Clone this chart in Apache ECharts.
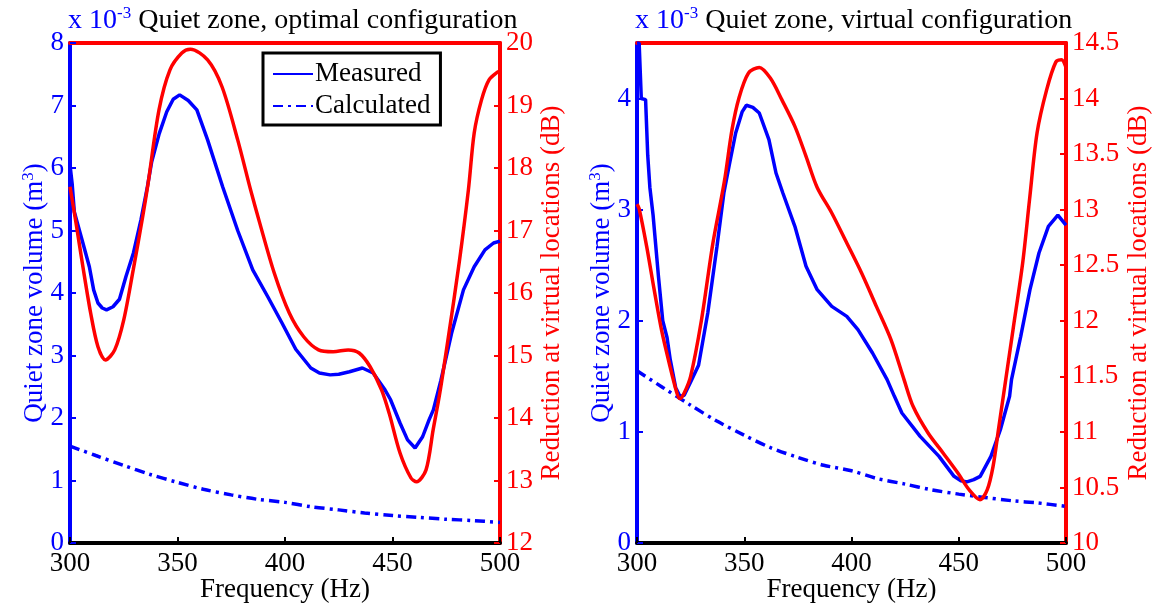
<!DOCTYPE html>
<html><head><meta charset="utf-8">
<script src="https://cdn.jsdelivr.net/npm/echarts@6/dist/echarts.min.js"></script>
<style>html,body{margin:0;padding:0;background:#fff}#c{width:1154px;height:603px}</style>
</head><body><div id="c"></div>
<script>
// ---------- data (volumes in 1e-3 m^3, reductions in dB) ----------
const freqTicks = [300, 350, 400, 450, 500];

// Optimal configuration: measured quiet-zone volume
const optMeasFreq = [300,301,302,304,306,309,311,313,315,317,320,323,326,329.5,333,336,338,341.5,345,348,351,355,359,364,371,378,385,392,398.6,405,412,416,421,425,430,436,441,446.5,449,453.5,457,460.5,464,467,469,472.5,477.5,483,488,493,497,500];
const optMeasVol  = [6.05,5.75,5.3,5.05,4.8,4.42,4.05,3.84,3.76,3.73,3.78,3.9,4.26,4.64,5.17,5.7,6.1,6.55,6.9,7.1,7.17,7.08,6.93,6.45,5.7,5.0,4.37,3.94,3.52,3.1,2.8,2.72,2.69,2.7,2.74,2.8,2.72,2.45,2.3,1.92,1.65,1.52,1.7,1.97,2.13,2.6,3.36,4.05,4.42,4.69,4.8,4.83];

// Optimal configuration: reduction at virtual locations
const optRedFreq = [300,302.8,306,309.6,313,316.5,320.8,325,329.4,333.8,336.3,341.4,346.5,352,356,364,370.7,378,384,388,395,402,408.7,415.6,422.4,429.4,434.5,439.6,444.9,448.5,453.5,458.6,461.2,465.6,468.9,472,475.8,481,485.3,488,491.4,494.9,499,500];
const optRedDb   = [17.7,17.12,16.42,15.68,15.14,14.93,15.09,15.57,16.37,17.22,17.75,18.93,19.57,19.84,19.9,19.73,19.3,18.45,17.65,17.15,16.32,15.68,15.3,15.09,15.06,15.09,15.04,14.82,14.45,14.07,13.44,13.04,12.98,13.17,13.81,14.4,15.25,16.48,17.65,18.56,19.09,19.41,19.54,19.55];

// Calculated quiet-zone volume (same in both panels)
const calcFreq = [300,312,325,337,350,362,375,387,400,412,425,437,450,462,475,487,500];
const calcVol  = [1.55,1.4,1.24,1.1,0.97,0.86,0.77,0.7,0.65,0.58,0.53,0.48,0.44,0.41,0.38,0.36,0.33];

// Virtual configuration: measured quiet-zone volume
const virMeasFreq = [300,301,302,304,305,306,307.5,310,312,314,315.5,318,320,322,325,328.7,333,337.3,340.5,343,346,349,351,354,357,361.5,364.8,368,373.6,378.8,384,390.8,397.8,403,409.8,416.6,420,423.5,432,440.8,447.8,451,453.8,457,460,465,469.4,473.7,474.6,478.9,483.2,487.4,491.8,496.2,500];
const virMeasVol  = [4.5,4.5,4.0,3.99,3.49,3.2,2.95,2.4,2.0,1.85,1.65,1.4,1.32,1.33,1.45,1.6,2.07,2.67,3.15,3.4,3.69,3.88,3.94,3.92,3.87,3.63,3.33,3.15,2.85,2.49,2.28,2.13,2.04,1.92,1.71,1.47,1.32,1.17,0.96,0.78,0.6,0.56,0.55,0.57,0.6,0.78,1.02,1.32,1.47,1.86,2.28,2.61,2.85,2.95,2.86];

// Virtual configuration: reduction at virtual locations
const virRedFreq = [300,301,304.5,308,311.4,315,318.6,320,322,325,330,335.4,340.7,344.3,347.6,352,357,362.3,367.5,373.6,378.8,384,390.8,397.8,404.7,411.6,418.4,424.5,428.7,435.7,442.7,449.6,454.8,459.9,463.3,466,468.5,471,475.3,479.8,483,486.5,491,495.3,497.9,500];
const virRedDb   = [13.05,13.01,12.67,12.28,11.92,11.62,11.35,11.3,11.35,11.5,12.0,12.7,13.25,13.72,14.01,14.23,14.28,14.18,13.99,13.75,13.48,13.2,12.97,12.7,12.43,12.13,11.83,11.47,11.23,10.99,10.81,10.63,10.48,10.39,10.48,10.69,11.02,11.35,11.92,12.52,13.09,13.69,14.08,14.33,14.35,14.28];

// ---------- styles ----------
const FONT = 'Liberation Serif';
const BLUE = '#0000ff', RED = '#ff0000', BLACK = '#000000';
const FS = 27, TFS = 28;
const AXW = 4, LW = 3.5;
const zip = (f, v) => f.map((x, i) => [x, v[i]]);
const dashDot = [10, 5, 3, 5];

function xAxes(grid) {
  return [
    { gridIndex: grid, type: 'value', min: freqTicks[0], max: freqTicks[freqTicks.length-1], interval: 50,
      position: 'bottom',
      axisLine: { show: true, onZero: false, lineStyle: { color: BLACK, width: AXW } },
      axisTick: { show: true, inside: true, length: 6, lineStyle: { color: BLACK, width: 2 } },
      axisLabel: { color: BLACK, fontFamily: FONT, fontSize: FS, margin: 7 },
      splitLine: { show: false },
      name: 'Frequency (Hz)', nameLocation: 'middle', nameGap: 33, nameMoveOverlap: false,
      nameTextStyle: { color: BLACK, fontFamily: FONT, fontSize: FS, fontWeight: 'normal', lineHeight: 27 } },
    { gridIndex: grid, type: 'value', min: 300, max: 500, interval: 50, position: 'top',
      axisLine: { show: true, onZero: false, lineStyle: { color: RED, width: AXW } },
      axisTick: { show: false }, axisLabel: { show: false }, splitLine: { show: false } }
  ];
}
function yAxis(grid, pos, min, max, interval, color, name, gap, showMax) {
  return {
    gridIndex: grid, type: 'value', min, max, interval, position: pos,
    axisLine: { show: true, onZero: false, lineStyle: { color, width: AXW } },
    axisTick: { show: true, inside: true, length: 6, lineStyle: { color, width: 2 } },
    axisLabel: { color, fontFamily: FONT, fontSize: FS, margin: 6, showMaxLabel: showMax },
    splitLine: { show: false },
    name, nameLocation: 'middle', nameGap: gap, nameRotate: 90, nameMoveOverlap: false,
    nameTextStyle: { color, fontFamily: FONT, fontSize: FS, fontWeight: 'normal', lineHeight: 30,
      rich: { s: { color, fontFamily: FONT, fontSize: 17, lineHeight: 18, verticalAlign: 'top' } } }
  };
}
function titleRich() {
  return {
    b: { color: BLUE, fontFamily: FONT, fontSize: TFS, fontWeight: 'normal', lineHeight: 32 },
    bs: { color: BLUE, fontFamily: FONT, fontSize: 17, fontWeight: 'normal', lineHeight: 18, verticalAlign: 'top' },
    k: { color: BLACK, fontFamily: FONT, fontSize: TFS, fontWeight: 'normal', lineHeight: 32 }
  };
}

const option = {
  animation: false,
  backgroundColor: '#fff',
  title: [
    { left: 68, top: 5, padding: 0, text: '{b|x 10}{bs|-3}{k| Quiet zone, optimal configuration}',
      textStyle: { fontWeight: 'normal', rich: titleRich() } },
    { left: 635, top: 5, padding: 0, text: '{b|x 10}{bs|-3}{k| Quiet zone, virtual configuration}',
      textStyle: { fontWeight: 'normal', rich: titleRich() } }
  ],
  legend: {
    left: 263, top: 53, orient: 'vertical', data: ['Measured', 'Calculated'],
    backgroundColor: '#fff', borderColor: BLACK, borderWidth: 3, borderRadius: 0,
    padding: [7, 10, 5, 9], itemGap: 4, itemWidth: 40, itemHeight: 14,
    itemStyle: { opacity: 0 },
    textStyle: { color: BLACK, fontFamily: FONT, fontSize: FS, lineHeight: 28, padding: [0, 0, 0, -3] }
  },
  grid: [
    { left: 70, top: 43, width: 430, height: 500, outerBoundsMode: 'none', containLabel: false },
    { left: 637, top: 43, width: 429, height: 500, outerBoundsMode: 'none', containLabel: false }
  ],
  xAxis: [...xAxes(0), ...xAxes(1)],
  yAxis: [
    yAxis(0, 'left', 0, 8, 1, BLUE, 'Quiet zone volume (m{s|3})', 20, true),
    yAxis(0, 'right', 12, 20, 1, RED, 'Reduction at virtual locations (dB)', 37, true),
    yAxis(1, 'left', 0, 4.5, 1, BLUE, 'Quiet zone volume (m{s|3})', 20, false),
    yAxis(1, 'right', 10, 14.5, 0.5, RED, 'Reduction at virtual locations (dB)', 58, true)
  ],
  series: [
    { name: 'Measured', type: 'line', xAxisIndex: 0, yAxisIndex: 0, data: zip(optMeasFreq, optMeasVol),
      symbol: 'none', color: BLUE, lineStyle: { color: BLUE, width: LW } },
    { name: 'Calculated', type: 'line', xAxisIndex: 0, yAxisIndex: 0, data: zip(calcFreq, calcVol),
      symbol: 'none', smooth: 0.3, color: BLUE, lineStyle: { color: BLUE, width: LW, type: dashDot } },
    { name: 'Reduction optimal', type: 'line', xAxisIndex: 0, yAxisIndex: 1, data: zip(optRedFreq, optRedDb),
      symbol: 'none', smooth: 0.3, color: RED, lineStyle: { color: RED, width: LW } },
    { name: 'Measured', type: 'line', xAxisIndex: 2, yAxisIndex: 2, data: zip(virMeasFreq, virMeasVol),
      symbol: 'none', color: BLUE, lineStyle: { color: BLUE, width: LW } },
    { name: 'Calculated', type: 'line', xAxisIndex: 2, yAxisIndex: 2, data: zip(calcFreq, calcVol),
      symbol: 'none', smooth: 0.3, color: BLUE, lineStyle: { color: BLUE, width: LW, type: dashDot } },
    { name: 'Reduction virtual', type: 'line', xAxisIndex: 2, yAxisIndex: 3, data: zip(virRedFreq, virRedDb),
      symbol: 'none', smooth: 0.3, color: RED, lineStyle: { color: RED, width: LW } }
  ]
};
const chart = echarts.init(document.getElementById('c'), null, { renderer: 'canvas' });
chart.setOption(option);
</script>
</body></html>
